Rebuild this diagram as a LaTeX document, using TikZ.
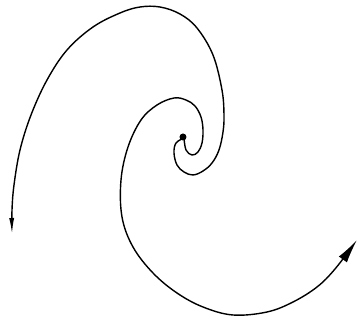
\documentclass[tikz,border=0pt]{standalone}
\usetikzlibrary{arrows.meta}
\begin{document}
\begin{tikzpicture}[x=1pt,y=-1pt,
  arm/.style={line width=1.4pt},
  lefthead/.style={-{Latex[length=16pt,width=5pt]}},
  righthead/.style={-{Latex[length=24pt,width=10pt]}}]
\useasboundingbox (0,0) rectangle (360,329);
% outer arm ending at the left
\draw[arm,lefthead] plot[smooth,tension=0.6] coordinates {
 (184,138) (176,143) (174,153) (177,165) (184,172) (193,175) (203,171) (212,163)
 (219,150) (223,132) (224,115) (222,90) (213,55) (197,28) (180,14) (160,7)
 (140,7) (120,13) (93,27) (67,50) (47,80) (31,115) (20,150) (14,185) (12,210) (12,234)};
% inner arm ending at the lower right
\draw[arm,righthead] plot[smooth,tension=0.6] coordinates {
 (184,138) (186,150) (192,155) (198,152) (202,143) (203,130) (201,117) (195,106)
 (186,100) (174,98) (157,105) (141,120) (128,147) (121,180) (122,217) (133,247)
 (153,273) (177,293) (203,307) (233,315) (267,312) (293,302) (317,287) (335,269) (357,240)};
\fill (183,137) circle (3.5);
\end{tikzpicture}
\end{document}
